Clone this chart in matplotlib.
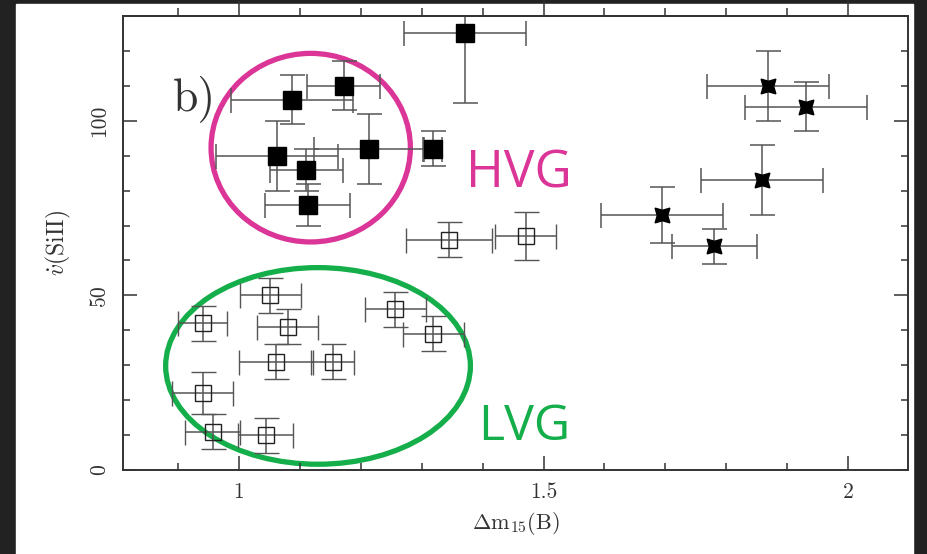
import matplotlib
matplotlib.use("Agg")
import matplotlib.pyplot as plt
from matplotlib.patches import Ellipse, Rectangle
from matplotlib.ticker import MultipleLocator

plt.rcParams['font.family'] = ['cmr10', 'DejaVu Serif']
plt.rcParams['mathtext.fontset'] = 'cm'
plt.rcParams['axes.formatter.use_mathtext'] = True

# HVG, filled squares
hvg_x = [1.371, 1.088, 1.172, 1.062, 1.111, 1.113, 1.214, 1.318]
hvg_y = [125, 106, 110, 90, 86, 76, 92, 92]
hvg_xerr = [0.10, 0.10, 0.06, 0.10, 0.06, 0.07, 0.09, 0.015]
hvg_yerr = [20, 7, 7, 10, 6, 6, 10, 5]

# LVG, open squares
lvg_x = [1.345, 1.471, 1.052, 0.941, 1.080, 1.257, 1.319, 1.061, 1.154, 0.941, 0.957, 1.044]
lvg_y = [66, 67, 50, 42, 41, 46, 39, 31, 31, 22, 11, 10]
lvg_xerr = [0.07, 0.05, 0.05, 0.04, 0.05, 0.05, 0.05, 0.06, 0.035, 0.05, 0.045, 0.045]
lvg_yerr = [5, 7, 5, 5, 5, 5, 5, 5, 5, 6, 5, 5]

# fast decliners, stars
fast_x = [1.869, 1.931, 1.859, 1.694, 1.780]
fast_y = [110, 104, 83, 73, 64]
fast_xerr = [0.10, 0.10, 0.10, 0.10, 0.07]
fast_yerr = [10, 7, 10, 8, 5]

fig = plt.figure(figsize=(9.28, 5.54), dpi=100, facecolor='#222222')
fig.add_artist(Rectangle((16/928, 0), (913-16)/928, (554-4)/554,
                         transform=fig.transFigure, color='white', zorder=-5))
ax = fig.add_axes([123/928, 1-470/554, (908-123)/928, (470-16)/554])

ebkw = dict(ls='none', ecolor='#555555', elinewidth=1.1, capsize=9, capthick=1.1)
ax.errorbar(hvg_x, hvg_y, xerr=hvg_xerr, yerr=hvg_yerr, marker='s', ms=12.5,
            mfc='black', mec='black', **ebkw)
ax.errorbar(lvg_x, lvg_y, xerr=lvg_xerr, yerr=lvg_yerr, marker='s', ms=11,
            mfc='none', mec='#222222', mew=1.0, **ebkw)
ax.errorbar(fast_x, fast_y, xerr=fast_xerr, yerr=fast_yerr, marker=(4, 1, 45), ms=15,
            mfc='black', mec='black', **ebkw)

ax.set_xlim(0.81, 2.098)
ax.set_ylim(0, 130)
ax.xaxis.set_minor_locator(MultipleLocator(0.1))
ax.yaxis.set_minor_locator(MultipleLocator(10))
ax.set_xticks([1, 1.5, 2])
ax.set_xticklabels(['1', '1.5', '2'])
ax.set_yticks([0, 50, 100])
ax.set_yticklabels(['0', '50', '100'], rotation=90, va='center')

ax.tick_params(which='both', direction='in', top=False, right=True, width=1.1,
               color='#333333', labelsize=15.5, labelcolor='#333333')
ax.tick_params(which='major', length=10)
ax.tick_params(which='minor', length=5)
ax.tick_params(axis='x', pad=9)
ax.tick_params(axis='y', pad=10)

# top ticks stick out above the frame
top = ax.secondary_xaxis('top')
top.set_xticks([1, 1.5, 2])
top.xaxis.set_minor_locator(MultipleLocator(0.1))
top.tick_params(which='both', direction='out', labeltop=False, width=1.1, color='#333333')
top.tick_params(which='major', length=11)
top.tick_params(which='minor', length=6)

for s in list(ax.spines.values()) + list(top.spines.values()):
    s.set_linewidth(1.4)
    s.set_color('#333333')

ax.set_xlabel(r'$\Delta$m$_{15}$(B)', fontsize=16, color='#333333', labelpad=6)
ax.set_ylabel(r'$\dot{v}$(SiII)', fontsize=17, color='#333333', labelpad=12)

ax.text(0.892, 103, 'b)', fontsize=33, color='#333333')

ax.add_patch(Ellipse((1.118, 92.3), 0.327, 54, fill=False, ec='#DA3597', lw=3.8))
ax.add_patch(Ellipse((1.130, 29.8), 0.500, 56.3, fill=False, ec='#14AE4A', lw=3.8))
ax.text(1.372, 81, 'HVG', fontsize=37, color='#DA3597', family='Open Sans')
ax.text(1.393, 8.5, 'LVG', fontsize=36, color='#14AE4A', family='Open Sans')

fig.savefig('out.png', dpi=100, facecolor=fig.get_facecolor())
